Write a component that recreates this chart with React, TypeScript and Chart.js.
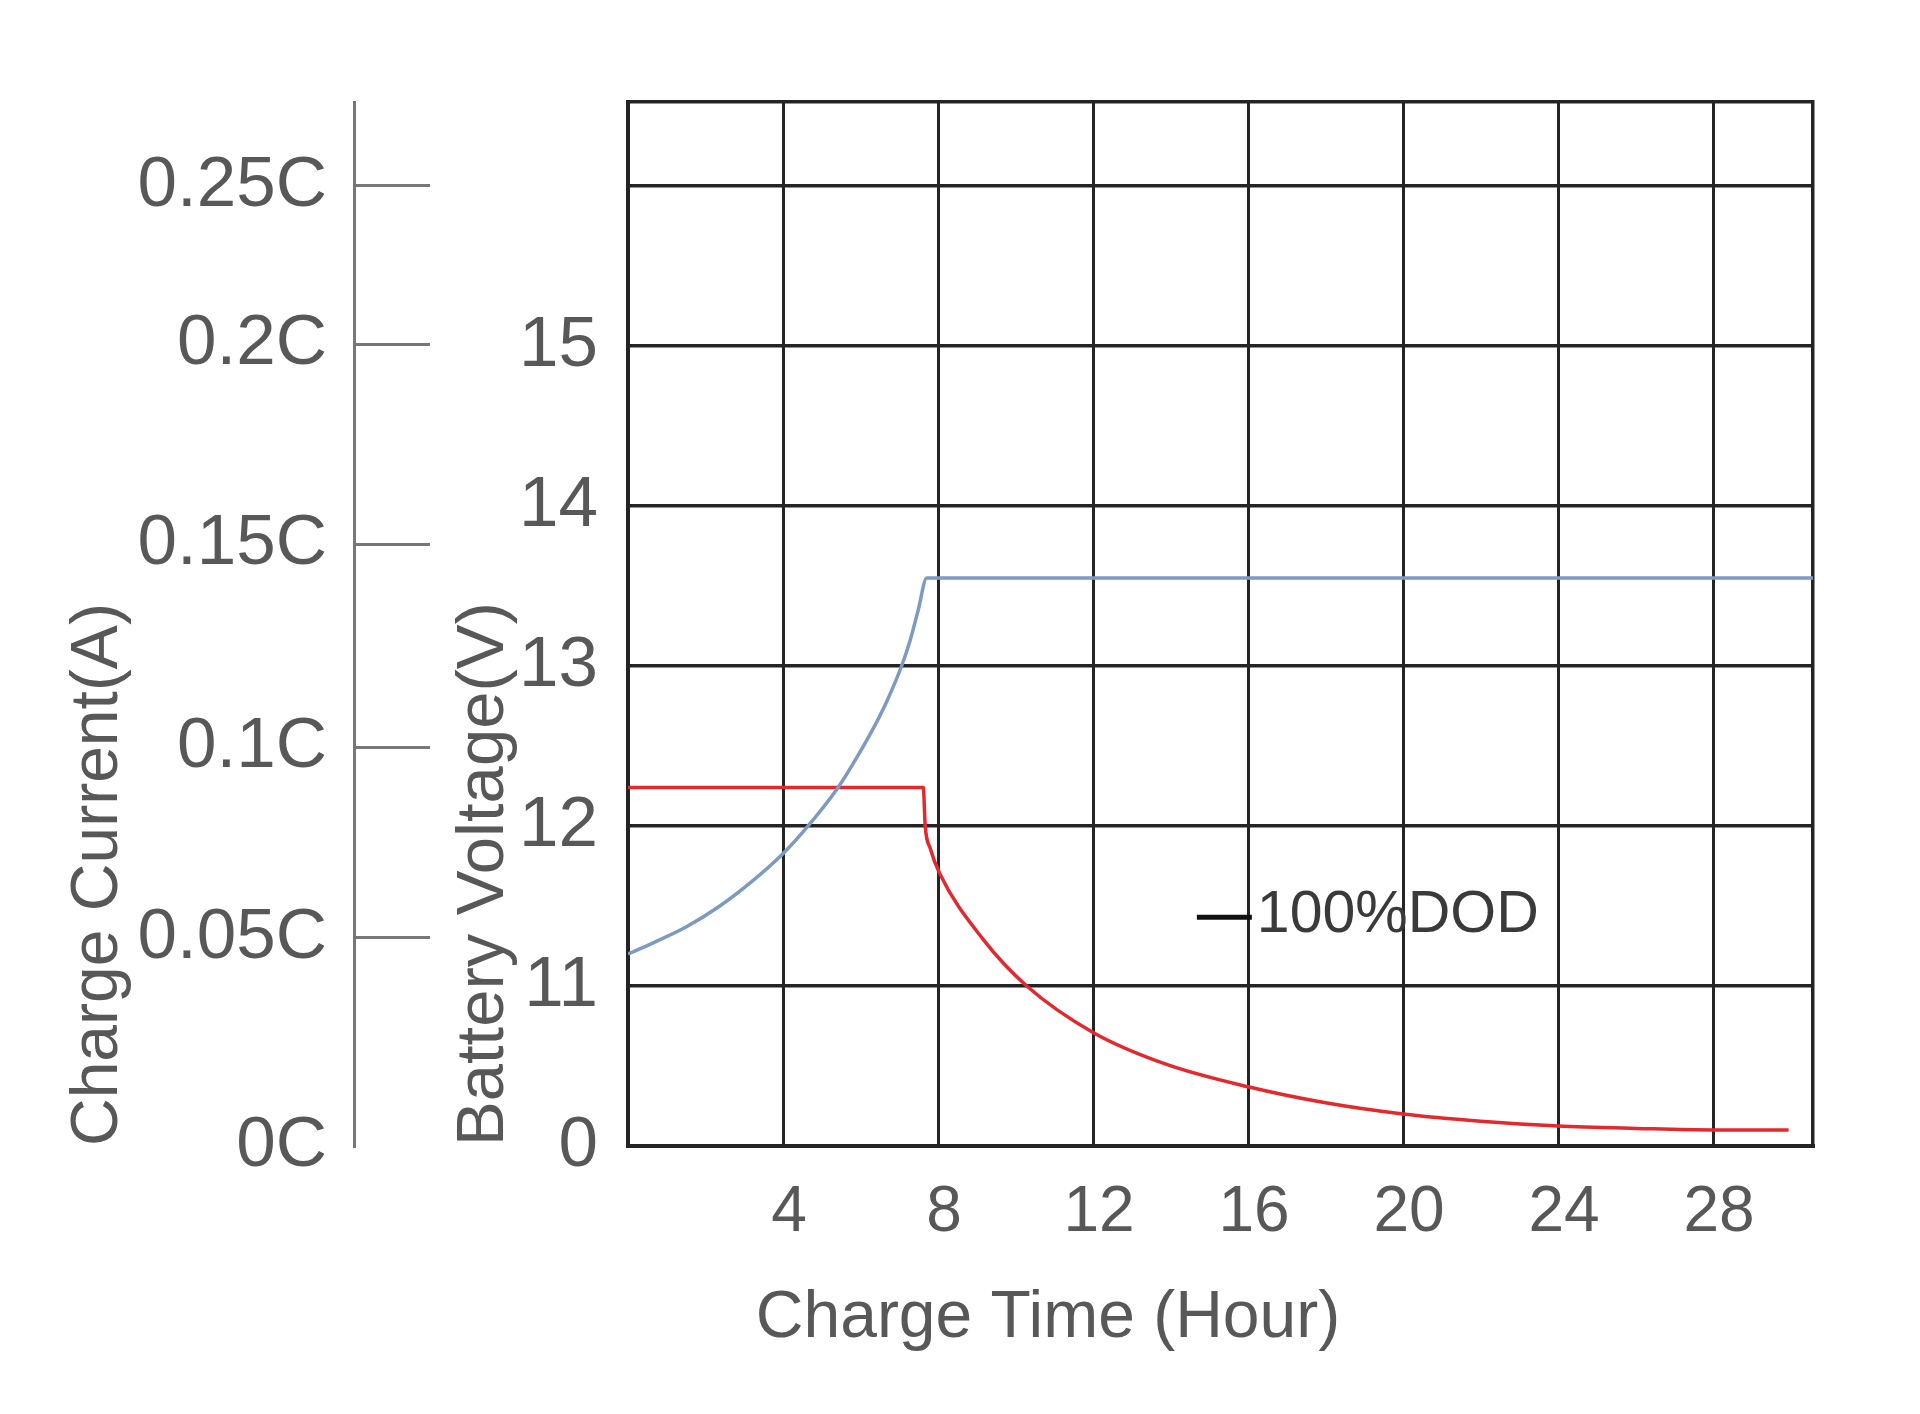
import React, { useEffect, useRef } from 'react';
import { Chart, registerables } from 'chart.js';

Chart.register(...registerables);

const FONT = "'Liberation Sans', Arial, sans-serif";
const TEXT_COLOR = '#585858';
const GRID_COLOR = '#242424';

// X axis: charge time (hours)
const TIME_MIN = 0;
const TIME_MAX = 30.58;
const TIME_TICKS = [0, 4, 8, 12, 16, 20, 24, 28];
const TIME_TICK_LABELS = ['', '4', '8', '12', '16', '20', '24', '28'];

// Inner left axis: battery voltage (broken axis, bottom line labelled 0)
const VOLT_MIN = 10;
const VOLT_MAX = 16.525;
const VOLT_TICKS = [10, 11, 12, 13, 14, 15, 16];
const VOLT_TICK_LABELS = ['0', '11', '12', '13', '14', '15', ''];

// Outer left axis: charge current (hand-drawn, placed against the voltage grid)
const CURRENT_TICKS = [10, 11.3, 12.49, 13.76, 15.01, 16];
const CURRENT_TICK_LABELS = ['0C', '0.05C', '0.1C', '0.15C', '0.2C', '0.25C'];

// Battery voltage curve (blue)
const VOLTAGE_TIME = [0, 0.65, 1.51, 2.37, 3.23, 4.01, 4.61, 5.39, 5.81, 6.33, 6.68, 7.06, 7.28, 7.49, 7.71, 30.58];
const VOLTAGE_VALUES = [11.2, 11.27, 11.37, 11.5, 11.66, 11.83, 11.99, 12.23, 12.39, 12.61, 12.78, 13.0, 13.16, 13.35, 13.55, 13.55];

// Charge current curve (red), read against the grid
const CURRENT_TIME = [0, 7.62, 7.67, 7.8, 8.05, 9.17, 10.29, 12.0, 13.9, 16.0, 18.0, 20.0, 22.0, 24.0, 26.0, 28.0, 29.95];
const CURRENT_VALUES = [12.24, 12.24, 12.0, 11.86, 11.7, 11.29, 11.0, 10.71, 10.51, 10.37, 10.27, 10.2, 10.155, 10.125, 10.11, 10.1, 10.1];

const LEGEND_LABEL = '100%DOD';
const LEGEND_TIME = 14.68;
const LEGEND_VOLT = 11.43;

const zeroPadding = (s: any) => {
  s.paddingTop = 0;
  s.paddingBottom = 0;
  s.paddingLeft = 0;
  s.paddingRight = 0;
};

const dodLegend = {
  id: 'dodLegend',
  afterDatasetsDraw(chart: any) {
    const { ctx, scales } = chart;
    const px = scales.x.getPixelForValue(LEGEND_TIME);
    const py = scales.y.getPixelForValue(LEGEND_VOLT);
    ctx.save();
    ctx.strokeStyle = '#111';
    ctx.lineWidth = 5;
    ctx.beginPath();
    ctx.moveTo(px, py);
    ctx.lineTo(px + 55, py);
    ctx.stroke();
    ctx.font = `59px ${FONT}`;
    ctx.fillStyle = '#3a3a3a';
    ctx.textAlign = 'left';
    ctx.textBaseline = 'alphabetic';
    ctx.fillText(LEGEND_LABEL, px + 60, py + 15);
    ctx.restore();
  },
};

export default function App() {
  const ref = useRef<HTMLCanvasElement>(null);

  useEffect(() => {
    if (!ref.current) return;
    const voltageData = VOLTAGE_TIME.map((t, i) => ({ x: t, y: VOLTAGE_VALUES[i] }));
    const currentData = CURRENT_TIME.map((t, i) => ({ x: t, y: CURRENT_VALUES[i] }));

    const chart = new Chart(ref.current, {
      type: 'line',
      data: {
        datasets: [
          {
            label: 'Battery Voltage',
            data: voltageData,
            borderColor: '#7d9abf',
            borderWidth: 3.5,
            pointRadius: 0,
            cubicInterpolationMode: 'monotone',
            xAxisID: 'x',
            yAxisID: 'y',
          },
          {
            label: 'Charge Current',
            data: currentData,
            borderColor: '#e3292e',
            borderWidth: 3.5,
            pointRadius: 0,
            cubicInterpolationMode: 'monotone',
            xAxisID: 'x',
            yAxisID: 'y',
          },
        ],
      },
      options: {
        animation: false,
        responsive: false,
        maintainAspectRatio: false,
        devicePixelRatio: 1,
        layout: {
          autoPadding: false,
          padding: { left: 0, right: -176, top: 102, bottom: 0 },
        },
        plugins: {
          legend: { display: false },
          tooltip: { enabled: false },
          title: {
            display: true,
            text: 'Charge Time (Hour)',
            position: 'bottom',
            align: 'center',
            color: TEXT_COLOR,
            font: { size: 66, family: FONT, weight: 'normal' },
            padding: { top: 33.4, bottom: 55.4 },
          },
        },
        scales: {
          x: {
            type: 'linear',
            axis: 'x',
            position: 'bottom',
            min: TIME_MIN,
            max: TIME_MAX,
            afterBuildTicks: (s: any) => {
              s.ticks = TIME_TICKS.map((v) => ({ value: v }));
            },
            afterFit: (s: any) => {
              s.height = 100;
              zeroPadding(s);
            },
            grid: { color: GRID_COLOR, lineWidth: 3, drawTicks: false },
            border: { display: true, color: GRID_COLOR, width: 4 },
            ticks: {
              autoSkip: false,
              maxRotation: 0,
              padding: 29,
              labelOffset: 6,
              color: TEXT_COLOR,
              font: { size: 64, family: FONT },
              callback: (_v: any, i: number) => TIME_TICK_LABELS[i],
            },
          },
          xTop: {
            type: 'linear',
            axis: 'x',
            position: 'top',
            afterFit: (s: any) => {
              s.height = 0;
              zeroPadding(s);
            },
            grid: { display: false },
            ticks: { display: false },
            border: { display: true, color: GRID_COLOR, width: 3.5 },
          },
          yRight: {
            type: 'linear',
            axis: 'y',
            position: 'right',
            afterFit: (s: any) => {
              s.width = 283;
              zeroPadding(s);
            },
            grid: { display: false },
            ticks: { display: false },
            border: { display: true, color: GRID_COLOR, width: 3.5 },
          },
          y: {
            type: 'linear',
            axis: 'y',
            position: 'left',
            weight: 0,
            min: VOLT_MIN,
            max: VOLT_MAX,
            afterBuildTicks: (s: any) => {
              s.ticks = VOLT_TICKS.map((v) => ({ value: v }));
            },
            afterFit: (s: any) => {
              s.width = 274;
              zeroPadding(s);
            },
            grid: { color: GRID_COLOR, lineWidth: 3.5, drawTicks: false },
            border: { display: true, color: GRID_COLOR, width: 3.5 },
            ticks: {
              autoSkip: false,
              padding: 30,
              color: TEXT_COLOR,
              font: { size: 71, family: FONT },
              callback: (_v: any, i: number) => VOLT_TICK_LABELS[i],
            },
            title: {
              display: true,
              text: 'Battery Voltage(V)',
              align: 'start',
              color: TEXT_COLOR,
              font: { size: 67, family: FONT },
              padding: { top: 90, bottom: 0 },
            },
          },
          yCur: {
            type: 'linear',
            axis: 'y',
            position: 'left',
            weight: 1,
            min: VOLT_MIN,
            max: VOLT_MAX,
            afterBuildTicks: (s: any) => {
              s.ticks = CURRENT_TICKS.map((v) => ({ value: v }));
            },
            afterFit: (s: any) => {
              s.width = 354;
              zeroPadding(s);
            },
            grid: {
              display: true,
              drawOnChartArea: false,
              drawTicks: true,
              tickLength: -76,
              tickWidth: 3,
              lineWidth: 3,
              color: '#777',
              tickColor: (c: any) => (c.index === 0 ? 'rgba(0,0,0,0)' : '#777'),
            },
            border: { display: true, color: '#777', width: 3 },
            ticks: {
              autoSkip: false,
              padding: 103,
              color: TEXT_COLOR,
              font: { size: 71, family: FONT },
              callback: (_v: any, i: number) => CURRENT_TICK_LABELS[i],
            },
            title: {
              display: true,
              text: 'Charge Current(A)',
              align: 'start',
              color: TEXT_COLOR,
              font: { size: 66, family: FONT },
              padding: { top: 59, bottom: 0 },
            },
          },
        },
      } as any,
      plugins: [dodLegend],
    });

    return () => chart.destroy();
  }, []);

  return (
    <div style={{ position: 'fixed', left: 0, top: 0, width: 1920, height: 1414, background: '#fff' }}>
      <canvas ref={ref} width={1920} height={1414} style={{ width: 1920, height: 1414, display: 'block' }} />
    </div>
  );
}
